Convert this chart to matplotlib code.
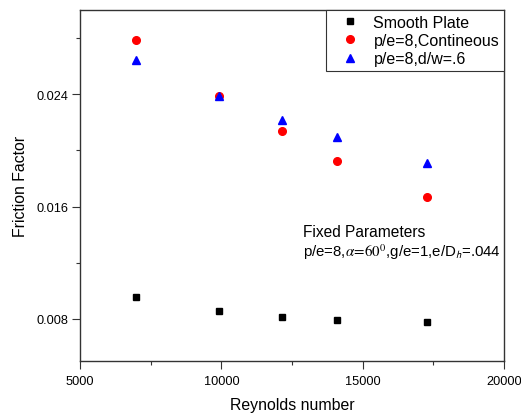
import matplotlib
matplotlib.use("Agg")
import matplotlib.pyplot as plt
from matplotlib.ticker import MultipleLocator, FixedLocator

plt.rcParams['font.family'] = ['Liberation Sans', 'DejaVu Sans']
plt.rcParams['mathtext.fontset'] = 'stix'

reynolds = [6970, 9917, 12157, 14081, 17293]
smooth_plate = [0.00954, 0.00854, 0.00811, 0.00790, 0.00776]
continuous = [0.02788, 0.02388, 0.02136, 0.01926, 0.01669]
broken = [0.02645, 0.02390, 0.02219, 0.02093, 0.01907]

labels = ['Smooth Plate', 'p/e=8,Contineous', 'p/e=8,d/w=.6']
xticks = [5000, 10000, 15000, 20000]
yticks = [0.008, 0.016, 0.024]

fig = plt.figure(figsize=(5.21, 4.14), dpi=100)
ax = fig.add_axes([80/521, 1-362/414, (504-80)/521, (362-11)/414])

ax.plot(reynolds, smooth_plate, 's', color='black', markersize=5, label=labels[0])
ax.plot(reynolds, continuous, 'o', color='red', markersize=5.5, label=labels[1])
ax.plot(reynolds, broken, '^', color='blue', markersize=6, label=labels[2])

ax.set_xlim(5000, 20000)
ax.set_ylim(0.005, 0.030)
ax.xaxis.set_major_locator(FixedLocator(xticks))
ax.xaxis.set_minor_locator(MultipleLocator(2500))
ax.yaxis.set_major_locator(FixedLocator(yticks))
ax.yaxis.set_minor_locator(FixedLocator([0.012, 0.020, 0.028]))
ax.set_xticklabels([str(v) for v in xticks])
ax.set_yticklabels([f'{v:.3f}' for v in yticks])
ax.tick_params(which='major', direction='out', length=5.5, width=0.8, labelsize=9.2,
               color='#333333', pad=3)
ax.tick_params(axis='x', which='major', pad=4.5)
ax.tick_params(which='minor', direction='out', length=3, width=0.8, color='#333333')
for s in ax.spines.values():
    s.set_linewidth(1.0)
    s.set_color('#333333')

ax.set_xlabel('Reynolds number', fontsize=11.4, labelpad=7)
ax.set_ylabel('Friction Factor', fontsize=11.4, labelpad=6)

leg = ax.legend(loc='upper right', bbox_to_anchor=(1.0, 1.0), fontsize=11.5,
                frameon=True, fancybox=False, edgecolor='#333333', framealpha=1,
                borderpad=0.3, labelspacing=0.2, handletextpad=0.25, handlelength=2.4,
                borderaxespad=0)
leg.get_frame().set_linewidth(0.8)

ax.text(0.525, 0.37, 'Fixed Parameters', transform=ax.transAxes, fontsize=11.2, va='center')
ax.text(0.525, 0.313,
        r'p/e=8,$\alpha\!=\!60^{0}$,g/e=1,e/D$_{\mathsf{h}}$=.044',
        transform=ax.transAxes, fontsize=10.8, va='center')

fig.savefig('out.png', dpi=100)
